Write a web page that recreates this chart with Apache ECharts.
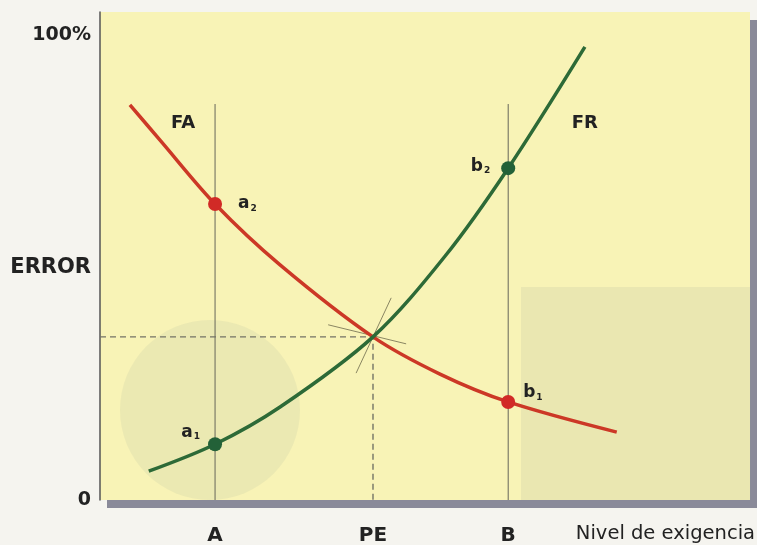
<!DOCTYPE html>
<html>
<head>
<meta charset="utf-8">
<script src="https://cdn.jsdelivr.net/npm/echarts@6/dist/echarts.min.js"></script>
<style>
html,body{margin:0;padding:0;background:#f5f4ef;}
#c{width:757px;height:545px;}
</style>
</head>
<body>
<div id="c"></div>
<script>
// ---- data (x: nivel de exigencia 0-100, y: error 0-105 %) ----
const faX = [4.6, 9.2, 17.7, 27.7, 42.0, 52.3, 62.8, 79.5];
const faY = [85.0, 77.5, 63.7, 50.6, 35.1, 27.1, 21.1, 14.6];
const frX = [7.5, 17.7, 27.7, 42.0, 53.1, 62.8, 74.6];
const frY = [6.2, 12.0, 20.0, 35.1, 52.5, 71.4, 97.5];

const xTickValues = [17.7, 42.0, 62.8];
const xTickLabels = ['A', 'PE', 'B'];
const yTickValues = [0, 50, 100];
const yTickLabels = ['0', 'ERROR', '100%'];
const xAxisName = 'Nivel de exigencia';

// marked points on the curves
const redPtsX = [17.7, 62.8];
const redPtsY = [63.7, 21.1];
const redPtsNames = ['a2', 'b1'];
const greenPtsX = [17.7, 62.8];
const greenPtsY = [12.0, 71.4];
const greenPtsNames = ['a1', 'b2'];

// guide lines
const guideX = [17.7, 62.8];
const guideTop = 85.2;
const peX = 42.0;
const peY = 35.1;
const tang1X = [35.1, 47.1], tang1Y = [37.7, 33.6];
const tang2X = [39.4, 44.8], tang2Y = [27.3, 43.5];

// curve name annotations
const curveNames = ['FA', 'FR'];
const curveNameX = [12.8, 74.6];
const curveNameY = [81.1, 81.1];

const zip = (xs, ys) => xs.map((x, i) => [x, ys[i]]);

const RED = '#cc3826';
const GREEN = '#2d6a37';
const TXT = '#222222';
const FONT = 'DejaVu Sans';

const ptLabelRich = {
  b: {fontFamily: FONT, fontWeight: 'bold', fontSize: 17, color: TXT},
  s: {fontFamily: FONT, fontWeight: 'bold', fontSize: 9, color: TXT, padding: [9, 0, 0, 1]}
};
function ptLabel(name) {
  return '{b|' + name.charAt(0) + '}{s|' + name.slice(1) + '}';
}
const ptLabelPos = {
  a2: {position: 'right', distance: 16, offset: [0, 0]},
  b1: {position: 'right', distance: 8, offset: [0, -9]},
  a1: {position: 'left', distance: 8, offset: [0, -12]},
  b2: {position: 'left', distance: 11, offset: [0, -2]}
};
function ptData(xs, ys, names) {
  return xs.map((x, i) => ({
    value: [x, ys[i]],
    name: names[i],
    label: Object.assign({show: true, color: TXT, formatter: ptLabel(names[i]), rich: ptLabelRich}, ptLabelPos[names[i]])
  }));
}

const chart = echarts.init(document.getElementById('c'), null, {renderer: 'canvas'});
chart.setOption({
  animation: false,
  backgroundColor: '#f5f4ef',
  grid: {
    left: 100, right: 7, top: 12, bottom: 45,
    outerBoundsMode: 'none', containLabel: false,
    show: true, backgroundColor: '#f8f3b6', borderWidth: 0,
    shadowColor: '#8a8a99', shadowBlur: 0, shadowOffsetX: 7, shadowOffsetY: 8
  },
  graphic: [
    {type: 'circle', z: 1, silent: true, shape: {cx: 210, cy: 410, r: 90},
     style: {fill: 'rgba(141,156,149,0.11)'}},
    {type: 'rect', z: 1, silent: true, shape: {x: 521, y: 287, width: 230, height: 213},
     style: {fill: 'rgba(141,156,149,0.13)'}}
  ],
  xAxis: {
    type: 'value', min: 0, max: 100,
    axisLine: {show: false}, axisTick: {show: false}, splitLine: {show: false},
    axisLabel: {
      customValues: xTickValues,
      formatter: v => { const i = xTickValues.findIndex(t => Math.abs(t - v) < 1e-6); return i >= 0 ? xTickLabels[i] : ''; },
      margin: 36, verticalAlign: 'middle',
      fontFamily: FONT, fontWeight: 'bold', fontSize: 20, color: TXT
    },
    name: xAxisName, nameLocation: 'end', nameGap: 5,
    nameTextStyle: {fontFamily: FONT, fontSize: 19.5, color: TXT, align: 'right', verticalAlign: 'top', lineHeight: 68}
  },
  yAxis: {
    type: 'value', min: 0, max: 105,
    axisLine: {show: true, lineStyle: {color: '#555', width: 1.5}},
    axisTick: {show: false}, splitLine: {show: false},
    axisLabel: {
      customValues: yTickValues,
      formatter: v => { const i = yTickValues.findIndex(t => Math.abs(t - v) < 1e-6); return i >= 0 ? '{' + (i === 1 ? 'e' : 'n') + '|' + yTickLabels[i] + '}' : ''; },
      margin: 9,
      rich: {
        n: {fontFamily: FONT, fontWeight: 'bold', fontSize: 19, color: TXT},
        e: {fontFamily: FONT, fontWeight: 'bold', fontSize: 21, color: TXT}
      }
    }
  },
  series: [
    // vertical guide lines at A and B
    ...guideX.map(x => ({
      type: 'line', z: 2, silent: true, symbol: 'none',
      data: [[x, 0], [x, guideTop]],
      lineStyle: {color: '#66665a', width: 1}
    })),
    // dashed PE lines
    {
      type: 'line', z: 2, silent: true, symbol: 'none',
      data: [[0, peY], [peX, peY], [peX, 0]],
      lineStyle: {color: '#737366', width: 1.4, type: [6, 4]}
    },
    // tangent marks at PE
    {type: 'line', z: 2, silent: true, symbol: 'none', data: zip(tang1X, tang1Y), lineStyle: {color: '#8a8662', width: 1}},
    {type: 'line', z: 2, silent: true, symbol: 'none', data: zip(tang2X, tang2Y), lineStyle: {color: '#8a8662', width: 1}},
    // FA curve
    {
      name: 'FA', type: 'line', z: 3, symbol: 'none', smooth: 0.33,
      data: zip(faX, faY),
      lineStyle: {color: RED, width: 3.5},
      markPoint: {
        symbol: 'circle', symbolSize: 1, itemStyle: {color: 'rgba(0,0,0,0)'},
        label: {show: true, position: 'inside', formatter: p => p.name, fontFamily: FONT, fontWeight: 'bold', fontSize: 18, color: TXT},
        data: [{name: curveNames[0], coord: [curveNameX[0], curveNameY[0]]}]
      }
    },
    // FR curve
    {
      name: 'FR', type: 'line', z: 3, symbol: 'none', smooth: 0.33,
      data: zip(frX, frY),
      lineStyle: {color: GREEN, width: 3.5},
      markPoint: {
        symbol: 'circle', symbolSize: 1, itemStyle: {color: 'rgba(0,0,0,0)'},
        label: {show: true, position: 'inside', formatter: p => p.name, fontFamily: FONT, fontWeight: 'bold', fontSize: 18, color: TXT},
        data: [{name: curveNames[1], coord: [curveNameX[1], curveNameY[1]]}]
      }
    },
    // points
    {
      type: 'scatter', z: 4, symbol: 'circle', symbolSize: 14,
      itemStyle: {color: '#d12a26', opacity: 1},
      data: ptData(redPtsX, redPtsY, redPtsNames)
    },
    {
      type: 'scatter', z: 4, symbol: 'circle', symbolSize: 14,
      itemStyle: {color: '#236138', opacity: 1},
      data: ptData(greenPtsX, greenPtsY, greenPtsNames)
    }
  ]
});
</script>
</body>
</html>
